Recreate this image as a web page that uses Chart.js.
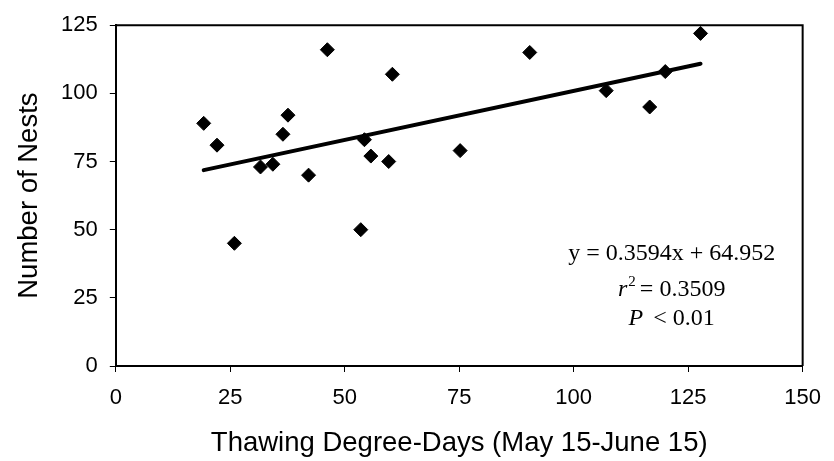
<!DOCTYPE html>
<html>
<head>
<meta charset="utf-8">
<script src="https://cdn.jsdelivr.net/npm/chart.js@4/dist/chart.umd.min.js"></script>
<style>
  html, body { margin: 0; padding: 0; background: #fff; }
  #c { display: block; }
</style>
</head>
<body>
<canvas id="c" width="834" height="461"></canvas>
<script>
// ---- data ----
const degreeDays = [19.2, 22.1, 25.9, 31.6, 34.3, 36.5, 37.6, 42.1, 46.2, 53.5, 54.3, 55.7, 59.6, 60.4, 75.2, 90.4, 107.1, 116.6, 120.0, 127.7];
const nests      = [89,   81,   45,   73,   74,   85,   92,   70,   116,  50,   83,   77,   75,   107,  79,   115,  101,  95,   108,  122];
const trendX = [19.2, 127.7];
const trendY = [71.85, 110.85];
const xTicks = [0, 25, 50, 75, 100, 125, 150];
const yTicks = [0, 25, 50, 75, 100, 125];
const xTitle = 'Thawing Degree-Days (May 15-June 15)';
const yTitle = 'Number of Nests';
const eqText = 'y = 0.3594x + 64.952';
const r2Text = '= 0.3509';
const pText = '< 0.01';
const annX = 121.4;
const annY = [38.9, 25.6, 15.0];

const points = degreeDays.map((x, i) => ({x: x, y: nests[i]}));
const trend = trendX.map((x, i) => ({x: x, y: trendY[i]}));

const SANS = "'Liberation Sans', Arial, sans-serif";
const SERIF = "'Liberation Serif', 'Times New Roman', serif";

const frame = {
  id: 'frame',
  afterDatasetsDraw(chart) {
    const {ctx, chartArea: a} = chart;
    ctx.save();
    ctx.strokeStyle = '#000';
    ctx.lineWidth = 2;
    ctx.beginPath();
    ctx.moveTo(a.left, a.top);
    ctx.lineTo(a.right, a.top);
    ctx.lineTo(a.right, a.bottom);
    ctx.stroke();
    ctx.restore();
  },
  afterDraw(chart) {
    const {ctx, scales} = chart;
    const cx = scales.x.getPixelForValue(annX);
    const ys = annY.map(v => scales.y.getPixelForValue(v));
    ctx.save();
    ctx.fillStyle = '#000';
    ctx.textBaseline = 'alphabetic';
    const reg = '24px ' + SERIF;
    const ital = 'italic 24px ' + SERIF;
    const sup = '15px ' + SERIF;
    // line 1
    ctx.font = reg;
    ctx.textAlign = 'center';
    ctx.fillText(eqText, cx, ys[0]);
    // line 2: r^2 = 0.3509
    ctx.textAlign = 'left';
    ctx.font = ital; const wr = ctx.measureText('r').width;
    ctx.font = sup; const w2 = ctx.measureText('2').width;
    ctx.font = reg; const wr2 = ctx.measureText(r2Text).width;
    const gap = 4;
    let total = wr + 1 + w2 + gap + wr2;
    let x0 = cx - total / 2;
    ctx.font = ital; ctx.fillText('r', x0, ys[1]);
    ctx.font = sup; ctx.fillText('2', x0 + wr + 1, ys[1] - 10);
    ctx.font = reg; ctx.fillText(r2Text, x0 + wr + 1 + w2 + gap, ys[1]);
    // line 3: P < 0.01
    ctx.font = ital; const wp = ctx.measureText('P').width;
    ctx.font = reg; const wpt = ctx.measureText(pText).width;
    const gap3 = 10;
    total = wp + gap3 + wpt;
    x0 = cx - total / 2;
    ctx.font = ital; ctx.fillText('P', x0, ys[2]);
    ctx.font = reg; ctx.fillText(pText, x0 + wp + gap3, ys[2]);
    ctx.restore();
  }
};

new Chart(document.getElementById('c'), {
  type: 'scatter',
  data: {
    datasets: [
      {
        type: 'line',
        data: trend,
        borderColor: '#000',
        borderWidth: 4,
        borderCapStyle: 'round',
        pointRadius: 0,
        fill: false,
        order: 1
      },
      {
        data: points,
        pointStyle: 'rectRot',
        pointRadius: 7,
        pointBorderWidth: 1,
        pointBackgroundColor: '#000',
        pointBorderColor: '#000',
        order: 0
      }
    ]
  },
  options: {
    responsive: false,
    animation: false,
    layout: { padding: { top: 15, right: 22.3, left: 0, bottom: 0 } },
    plugins: { legend: { display: false }, tooltip: { enabled: false } },
    scales: {
      x: {
        type: 'linear',
        min: 0, max: 150,
        afterBuildTicks: s => { s.ticks = xTicks.map(v => ({value: v})); },
        afterFit: s => { s.height = 95; },
        grid: { drawOnChartArea: false, drawTicks: true, tickLength: 6, color: '#000', lineWidth: 1 },
        border: { display: true, color: '#000', width: 2 },
        ticks: { color: '#000', padding: 13, font: { family: SANS, size: 22 }, maxRotation: 0 },
        title: { display: true, text: xTitle, color: '#000', font: { family: SANS, size: 27.5 }, padding: { top: 0, bottom: 1.5 } }
      },
      y: {
        type: 'linear',
        min: 0, max: 125,
        afterBuildTicks: s => { s.ticks = yTicks.map(v => ({value: v})); },
        afterFit: s => { s.width = 115.8; },
        grid: { drawOnChartArea: false, drawTicks: true, tickLength: 6, color: '#000', lineWidth: 1 },
        border: { display: true, color: '#000', width: 2 },
        ticks: { color: '#000', padding: 12, font: { family: SANS, size: 22 } },
        title: { display: true, text: yTitle, color: '#000', font: { family: SANS, size: 27.5 }, padding: { top: 12.5, bottom: 0 } }
      }
    }
  },
  plugins: [frame]
});
</script>
</body>
</html>
